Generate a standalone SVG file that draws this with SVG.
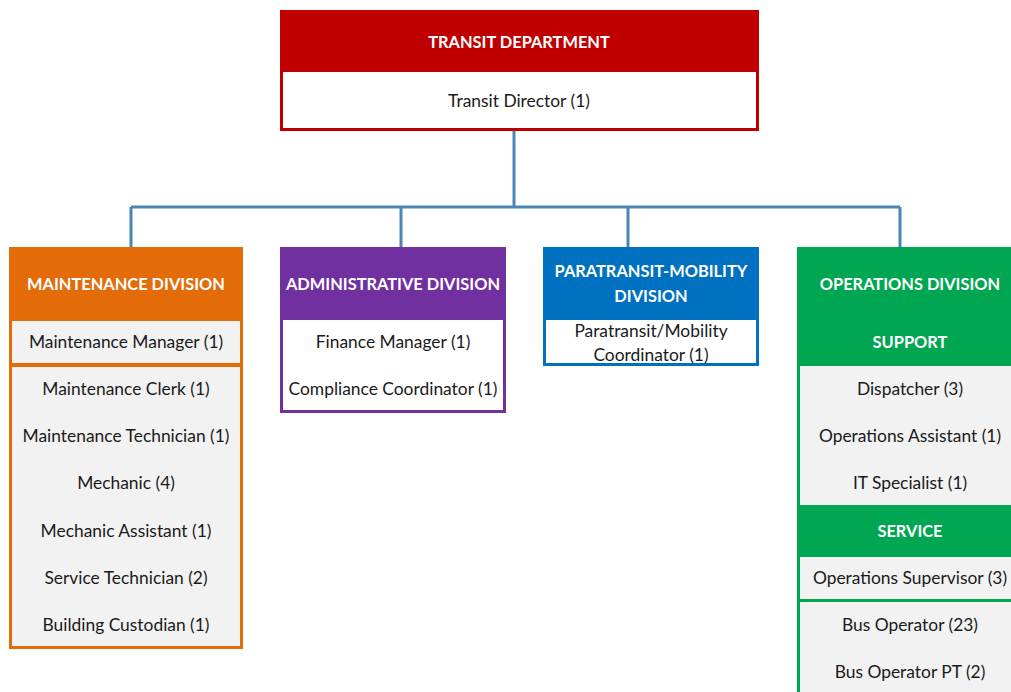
<svg xmlns="http://www.w3.org/2000/svg" width="1011" height="692" viewBox="0 0 1011 692">
  <style>
    .hd { font-family: Lato, "Open Sans", sans-serif; font-weight: bold; font-size: 16.4px; fill: #ffffff; text-anchor: middle; dominant-baseline: central; }
    .tx { font-family: Lato, "Open Sans", sans-serif; font-size: 17.4px; fill: #1a1a1a; text-anchor: middle; dominant-baseline: central; }
    .ln { fill: none; stroke: #4a86b4; stroke-width: 3; }
  </style>
  <rect width="1011" height="692" fill="#ffffff"/>

  <!-- connectors -->
  <g id="connectors">
    <path class="ln" d="M514 131 V207"/>
    <path class="ln" d="M131 207 H900"/>
    <path class="ln" d="M131 207 V247 M401 207 V247 M628 207 V247 M900 207 V247"/>
  </g>

  <!-- top node -->
  <g id="transit-department">
    <rect x="280" y="10" width="479" height="121" fill="#c00000"/>
    <rect x="283" y="72" width="473" height="56" fill="#ffffff"/>
    <text class="hd" x="519" y="41">TRANSIT DEPARTMENT</text>
    <text class="tx" x="519" y="100">Transit Director (1)</text>
  </g>

  <!-- maintenance -->
  <g id="maintenance-division">
    <rect x="9" y="247" width="234" height="402" fill="#e36c09"/>
    <rect x="12" y="321" width="228" height="42" fill="#f2f2f2"/>
    <rect x="12" y="367" width="228" height="279" fill="#f2f2f2"/>
    <text class="hd" x="126" y="283">MAINTENANCE DIVISION</text>
    <text class="tx" x="126" y="341">Maintenance Manager (1)</text>
    <text class="tx" x="126" y="388">Maintenance Clerk (1)</text>
    <text class="tx" x="126" y="435">Maintenance Technician (1)</text>
    <text class="tx" x="126" y="482">Mechanic (4)</text>
    <text class="tx" x="126" y="530">Mechanic Assistant (1)</text>
    <text class="tx" x="126" y="577">Service Technician (2)</text>
    <text class="tx" x="126" y="624">Building Custodian (1)</text>
  </g>

  <!-- administrative -->
  <g id="administrative-division">
    <rect x="280" y="247" width="226" height="166" fill="#7030a0"/>
    <rect x="283" y="320" width="220" height="90" fill="#ffffff"/>
    <text class="hd" x="393" y="283">ADMINISTRATIVE DIVISION</text>
    <text class="tx" x="393" y="341">Finance Manager (1)</text>
    <text class="tx" x="393" y="388">Compliance Coordinator (1)</text>
  </g>

  <!-- paratransit -->
  <g id="paratransit-division">
    <rect x="543" y="247" width="216" height="119" fill="#0070c0"/>
    <rect x="546" y="320" width="210" height="43" fill="#ffffff"/>
    <text class="hd" x="651" y="270">PARATRANSIT-MOBILITY</text>
    <text class="hd" x="651" y="295">DIVISION</text>
    <text class="tx" x="651" y="330">Paratransit/Mobility</text>
    <text class="tx" x="651" y="354">Coordinator (1)</text>
  </g>

  <!-- operations -->
  <g id="operations-division">
    <rect x="797" y="247" width="230" height="460" fill="#00a651"/>
    <rect x="800" y="366" width="224" height="139" fill="#f2f2f2"/>
    <rect x="800" y="557" width="224" height="42" fill="#f2f2f2"/>
    <rect x="800" y="602" width="224" height="100" fill="#f2f2f2"/>
    <text class="hd" x="910" y="283">OPERATIONS DIVISION</text>
    <text class="hd" x="910" y="341">SUPPORT</text>
    <text class="tx" x="910" y="388">Dispatcher (3)</text>
    <text class="tx" x="910" y="435">Operations Assistant (1)</text>
    <text class="tx" x="910" y="482">IT Specialist (1)</text>
    <text class="hd" x="910" y="530">SERVICE</text>
    <text class="tx" x="910" y="577">Operations Supervisor (3)</text>
    <text class="tx" x="910" y="624">Bus Operator (23)</text>
    <text class="tx" x="910" y="671">Bus Operator PT (2)</text>
  </g>
</svg>
